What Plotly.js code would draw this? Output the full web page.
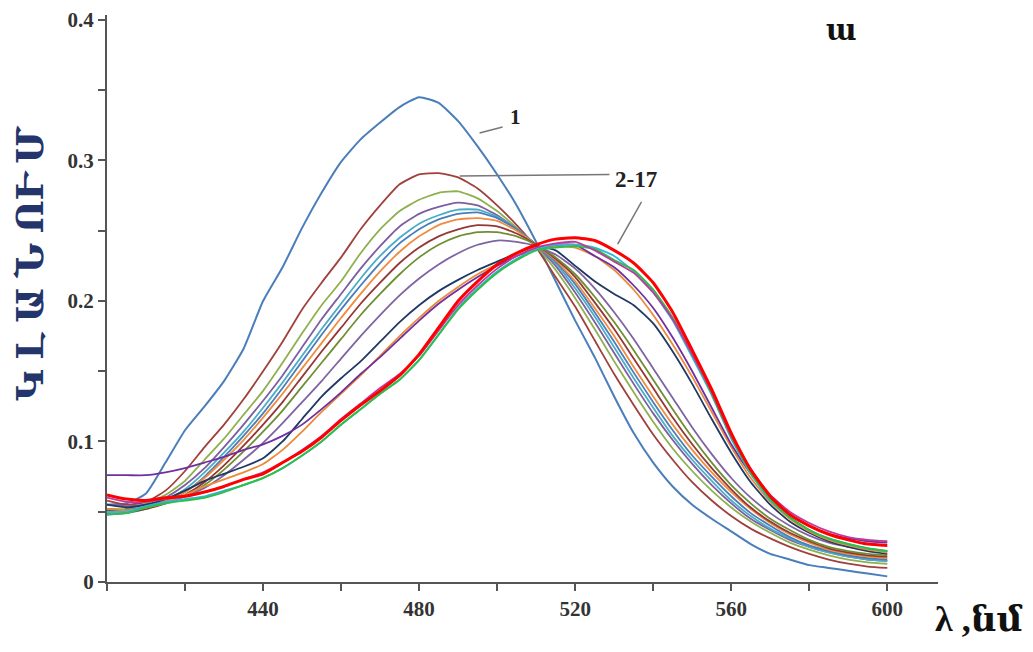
<!DOCTYPE html>
<html>
<head>
<meta charset="utf-8">
<script src="https://cdn.plot.ly/plotly-3.0.1.min.js"></script>
<style>html,body{margin:0;padding:0;background:#fff;}#chart{width:1033px;height:652px;}</style>
</head>
<body>
<div id="chart"></div>
<script>
// wavelength, nm
const wavelength = [400,405,410,415,420,425,430,435,440,445,450,455,460,465,470,475,480,485,490,495,500,505,510,515,520,525,530,535,540,545,550,555,560,565,570,575,580,585,590,595,600];

const s1  = [0.055,0.056,0.063,0.085,0.108,0.125,0.143,0.166,0.200,0.224,0.252,0.277,0.299,0.315,0.327,0.338,0.345,0.341,0.328,0.310,0.290,0.268,0.242,0.214,0.186,0.160,0.132,0.106,0.085,0.068,0.055,0.045,0.036,0.027,0.020,0.016,0.012,0.010,0.008,0.006,0.004];
const s2  = [0.058,0.055,0.057,0.065,0.079,0.096,0.112,0.130,0.150,0.171,0.194,0.213,0.231,0.251,0.268,0.283,0.290,0.291,0.288,0.280,0.268,0.254,0.238,0.217,0.196,0.172,0.148,0.126,0.105,0.087,0.071,0.058,0.047,0.038,0.031,0.025,0.020,0.016,0.013,0.011,0.010];
const s3  = [0.052,0.052,0.056,0.062,0.072,0.087,0.102,0.119,0.136,0.156,0.177,0.197,0.214,0.234,0.251,0.264,0.272,0.277,0.278,0.273,0.264,0.252,0.239,0.222,0.202,0.180,0.157,0.135,0.114,0.095,0.079,0.065,0.053,0.043,0.035,0.028,0.023,0.019,0.016,0.014,0.013];
const s4  = [0.050,0.051,0.054,0.060,0.069,0.081,0.096,0.112,0.129,0.147,0.167,0.187,0.205,0.223,0.239,0.253,0.262,0.267,0.270,0.268,0.261,0.251,0.240,0.225,0.206,0.185,0.163,0.141,0.120,0.101,0.084,0.069,0.056,0.045,0.037,0.030,0.025,0.021,0.018,0.016,0.015];
const s5  = [0.049,0.050,0.053,0.058,0.066,0.078,0.092,0.107,0.124,0.142,0.161,0.180,0.198,0.216,0.232,0.245,0.255,0.261,0.265,0.265,0.260,0.251,0.240,0.227,0.209,0.189,0.167,0.145,0.124,0.104,0.087,0.072,0.058,0.047,0.038,0.031,0.025,0.021,0.018,0.016,0.015];
const s6  = [0.048,0.049,0.052,0.057,0.064,0.075,0.089,0.104,0.120,0.138,0.157,0.176,0.194,0.211,0.227,0.241,0.251,0.258,0.262,0.263,0.259,0.251,0.240,0.228,0.212,0.192,0.171,0.149,0.128,0.108,0.090,0.075,0.061,0.049,0.040,0.032,0.026,0.022,0.019,0.017,0.016];
const s7  = [0.050,0.050,0.053,0.058,0.064,0.074,0.087,0.101,0.117,0.134,0.152,0.170,0.188,0.205,0.221,0.235,0.246,0.254,0.258,0.259,0.257,0.250,0.240,0.229,0.214,0.195,0.175,0.153,0.132,0.112,0.094,0.078,0.064,0.052,0.042,0.034,0.028,0.023,0.020,0.018,0.017];
const s8  = [0.051,0.050,0.052,0.056,0.062,0.071,0.083,0.097,0.112,0.128,0.146,0.164,0.181,0.198,0.213,0.227,0.238,0.246,0.251,0.254,0.253,0.248,0.240,0.230,0.217,0.199,0.180,0.159,0.138,0.117,0.098,0.081,0.066,0.053,0.043,0.035,0.029,0.024,0.021,0.019,0.018];
const s9  = [0.052,0.051,0.053,0.056,0.061,0.069,0.080,0.093,0.107,0.122,0.139,0.156,0.173,0.190,0.205,0.219,0.231,0.240,0.246,0.249,0.249,0.246,0.240,0.231,0.219,0.203,0.185,0.165,0.144,0.123,0.103,0.085,0.069,0.056,0.045,0.037,0.030,0.025,0.022,0.020,0.019];
const s10 = [0.055,0.054,0.055,0.057,0.061,0.067,0.076,0.087,0.099,0.113,0.128,0.143,0.159,0.175,0.190,0.204,0.216,0.226,0.234,0.240,0.243,0.242,0.239,0.233,0.223,0.209,0.192,0.173,0.152,0.131,0.110,0.091,0.074,0.060,0.049,0.040,0.033,0.028,0.025,0.023,0.022];
const s11 = [0.055,0.053,0.055,0.059,0.065,0.072,0.077,0.082,0.088,0.100,0.116,0.132,0.145,0.157,0.171,0.185,0.197,0.207,0.215,0.222,0.228,0.234,0.239,0.236,0.225,0.214,0.205,0.197,0.184,0.164,0.141,0.116,0.092,0.071,0.055,0.043,0.035,0.029,0.025,0.022,0.020];
const s12 = [0.052,0.051,0.053,0.057,0.062,0.068,0.073,0.078,0.084,0.094,0.107,0.121,0.134,0.147,0.161,0.175,0.188,0.200,0.210,0.219,0.226,0.232,0.237,0.239,0.238,0.232,0.222,0.208,0.190,0.169,0.146,0.121,0.096,0.074,0.057,0.045,0.036,0.030,0.026,0.023,0.021];
const s13 = [0.076,0.076,0.076,0.078,0.081,0.085,0.089,0.094,0.098,0.104,0.112,0.123,0.135,0.148,0.160,0.173,0.186,0.198,0.208,0.217,0.225,0.232,0.237,0.240,0.240,0.232,0.224,0.211,0.195,0.174,0.150,0.124,0.098,0.077,0.060,0.048,0.040,0.034,0.031,0.029,0.028];
const s14 = [0.050,0.050,0.054,0.057,0.059,0.061,0.065,0.069,0.074,0.081,0.090,0.100,0.112,0.123,0.134,0.144,0.158,0.176,0.195,0.209,0.221,0.230,0.237,0.240,0.240,0.238,0.232,0.221,0.206,0.186,0.160,0.133,0.102,0.077,0.058,0.046,0.037,0.031,0.027,0.024,0.022];
const s15 = [0.048,0.049,0.053,0.056,0.058,0.060,0.064,0.069,0.074,0.081,0.090,0.100,0.112,0.123,0.134,0.144,0.158,0.176,0.194,0.208,0.220,0.229,0.236,0.238,0.239,0.237,0.229,0.222,0.208,0.188,0.162,0.134,0.103,0.078,0.059,0.046,0.037,0.031,0.027,0.024,0.022];
const s16 = [0.060,0.057,0.057,0.059,0.061,0.064,0.068,0.073,0.078,0.085,0.094,0.104,0.116,0.127,0.138,0.148,0.161,0.179,0.197,0.211,0.223,0.232,0.238,0.241,0.242,0.236,0.228,0.220,0.206,0.187,0.162,0.135,0.104,0.080,0.062,0.050,0.042,0.036,0.032,0.030,0.029];
const s17 = [0.062,0.059,0.058,0.060,0.061,0.064,0.068,0.073,0.077,0.085,0.093,0.103,0.115,0.126,0.136,0.147,0.162,0.181,0.200,0.214,0.226,0.234,0.240,0.244,0.245,0.243,0.236,0.227,0.213,0.192,0.165,0.137,0.106,0.080,0.061,0.048,0.040,0.034,0.030,0.027,0.026];

const seriesList = [s1,s2,s3,s4,s5,s6,s7,s8,s9,s10,s11,s12,s13,s14,s15,s16,s17];
const seriesColors = ['#4A7EBB','#A0403C','#8FB04F','#7D5FA0','#4BACC6','#4A7EBB','#F08C3E','#953735','#6F8F35','#8064A2','#1F3864','#E98B3A','#7030A0','#31B6E0','#2DBE4B','#C0399B','#FF0000'];
const seriesWidths = [2,1.8,1.8,1.8,1.8,1.8,1.8,1.8,1.8,1.8,1.8,1.8,1.8,1.8,2,1.8,3];

const xTicks = [440,480,520,560,600];
const yTicks = [0,0.1,0.2,0.3,0.4];
const yTickText = ['0','0.1','0.2','0.3','0.4'];

const traces = seriesList.map((s,i)=>({
  x: wavelength, y: s, type:'scatter', mode:'lines',
  line:{color:seriesColors[i], width:seriesWidths[i], shape:'spline', smoothing:0.5},
  showlegend:false, hoverinfo:'skip'
}));

const serif = 'Liberation Serif, DejaVu Serif, Times New Roman, serif';
const tickFont = {family: serif, size:21, weight:'bold', color:'#333'};

const layout = {
  width:1033, height:652,
  margin:{l:107, r:95, t:15, b:70},
  paper_bgcolor:'#fff', plot_bgcolor:'#fff',
  xaxis:{
    range:[400,613], tickmode:'array', tickvals:xTicks,
    ticks:'outside', ticklen:7, tickwidth:2, tickcolor:'#555',
    showline:true, linecolor:'#555', linewidth:2, showgrid:false, zeroline:false,
    tickfont:tickFont,
    minor:{tick0:400, dtick:20, ticks:'outside', ticklen:7, tickwidth:2, tickcolor:'#555', showgrid:false}
  },
  yaxis:{
    range:[0,0.4035], tickmode:'array', tickvals:yTicks, ticktext:yTickText,
    ticks:'outside', ticklen:7, tickwidth:2, tickcolor:'#555',
    showline:true, linecolor:'#555', linewidth:2, showgrid:false, zeroline:false,
    tickfont:tickFont,
    minor:{tick0:0, dtick:0.05, ticks:'outside', ticklen:7, tickwidth:2, tickcolor:'#555', showgrid:false}
  },
  shapes:[
    {type:'line', xref:'x', yref:'y', x0:495.5, y0:0.3196, x1:501.4, y1:0.3238, line:{color:'#777', width:1.5}},
    {type:'line', xref:'x', yref:'y', x0:490.4, y0:0.2890, x1:528.8, y1:0.2900, line:{color:'#777', width:1.5}},
    {type:'line', xref:'x', yref:'y', x0:537.0, y0:0.2705, x1:530.9, y1:0.2405, line:{color:'#777', width:1.5}}
  ],
  annotations:[
    {xref:'x', yref:'y', x:504.6, y:0.331, text:'1', showarrow:false, font:{family:serif, size:21, weight:'bold', color:'#222'}},
    {xref:'x', yref:'y', x:535.6, y:0.2865, text:'2-17', showarrow:false, font:{family:serif, size:23, weight:'bold', color:'#222'}},
    {xref:'paper', yref:'paper', x:0.905, y:1.005, text:'ա', showarrow:false, font:{family:serif, size:29, weight:'bold', color:'#111'}},
    {xref:'paper', yref:'paper', x:-0.0927, y:0.564, text:'Կ Լ Ա Ն ՈՒ Մ', textangle:-90, showarrow:false, xanchor:'center', yanchor:'middle', font:{family:serif, size:38, weight:'bold', color:'#23356B'}},
    {xref:'paper', yref:'paper', x:1.049, y:-0.066, text:'λ ,նմ', showarrow:false, xanchor:'center', yanchor:'middle', font:{family:serif, size:36, weight:'bold', color:'#111'}}
  ]
};

Plotly.newPlot('chart', traces, layout, {staticPlot:true, displayModeBar:false});
</script>
</body>
</html>
